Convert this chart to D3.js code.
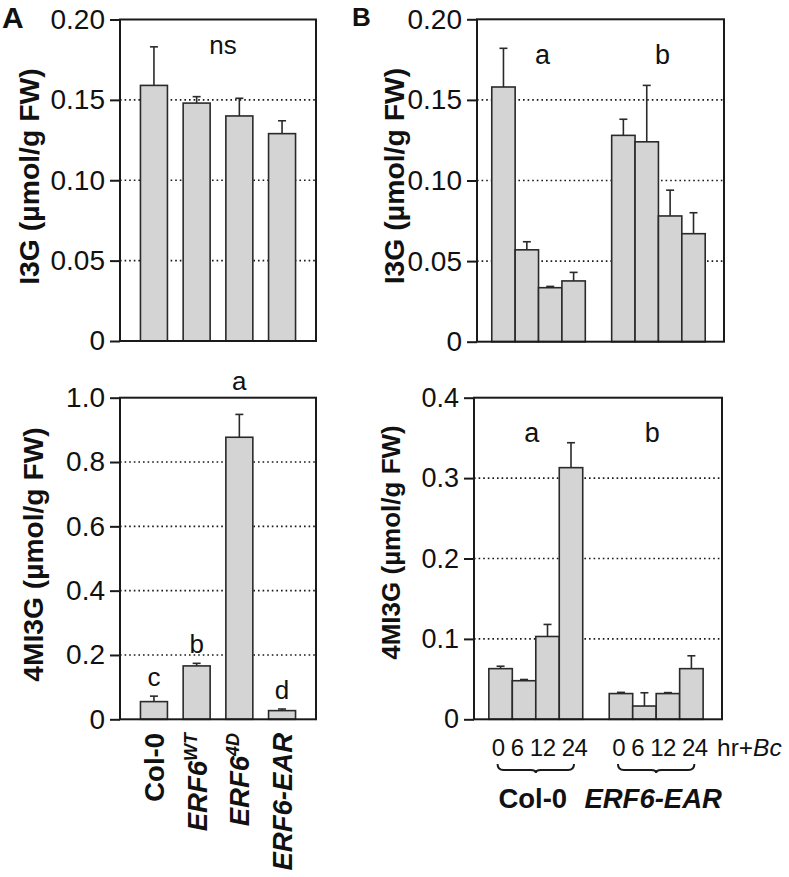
<!DOCTYPE html>
<html><head><meta charset="utf-8">
<script src="https://cdn.jsdelivr.net/npm/d3@7"></script>
<style>
body{margin:0;background:#fff}
svg{display:block}
text{font-family:"Liberation Sans",Arial,Helvetica,sans-serif;fill:#111}
</style>
</head><body>
<svg id="c" width="789" height="877"></svg>
<script>
// ---------------- data ----------------
const aCategories = ["Col-0", "ERF6WT", "ERF64D", "ERF6-EAR"];
const aLabelMain = ["Col-0", "ERF6", "ERF6", "ERF6-EAR"];
const aLabelSup = ["", "WT", "4D", ""];
const aLabelItalic = [false, true, true, true];

const aI3G = [0.159, 0.148, 0.140, 0.129];
const aI3GErr = [0.024, 0.004, 0.011, 0.008];
const aI3GNote = "ns";

const a4MI3G = [0.055, 0.166, 0.877, 0.027];
const a4MI3GErr = [0.017, 0.008, 0.071, 0.005];
const a4MI3GLetters = ["c", "b", "a", "d"];

const bGenotypes = ["Col-0", "ERF6-EAR"];
const bTimes = ["0", "6", "12", "24"];
const bI3GCol = [0.158, 0.057, 0.0335, 0.0377];
const bI3GColErr = [0.024, 0.005, 0.0008, 0.0053];
const bI3GEar = [0.128, 0.124, 0.078, 0.067];
const bI3GEarErr = [0.010, 0.035, 0.016, 0.013];
const bI3GLetters = ["a", "b"];

const b4MI3GCol = [0.063, 0.048, 0.103, 0.313];
const b4MI3GColErr = [0.003, 0.0015, 0.015, 0.031];
const b4MI3GEar = [0.032, 0.0165, 0.032, 0.063];
const b4MI3GEarErr = [0.0015, 0.0165, 0.0012, 0.016];
const b4MI3GLetters = ["a", "b"];

const ticksI3G = [0, 0.05, 0.10, 0.15, 0.20];
const tickLabelsI3G = ["0", "0.05", "0.10", "0.15", "0.20"];
const ticksA4 = [0, 0.2, 0.4, 0.6, 0.8, 1.0];
const tickLabelsA4 = ["0", "0.2", "0.4", "0.6", "0.8", "1.0"];
const ticksB4 = [0, 0.1, 0.2, 0.3, 0.4];
const tickLabelsB4 = ["0", "0.1", "0.2", "0.3", "0.4"];

const yLabelI3G = "I3G (µmol/g FW)";
const yLabel4MI3G = "4MI3G (µmol/g FW)";
const timeUnit = ["hr+", "Bc"];

// ---------------- drawing ----------------
const svg = d3.select("#c");
const BAR_FILL = "#d4d4d4", BAR_STROKE = "#2a2a2a", INK = "#1a1a1a";

function panel(o) {
  const g = svg.append("g");
  const y = d3.scaleLinear().domain([0, o.max]).range([o.y1, o.y0]);
  g.append("g").selectAll("line")
    .data(o.ticks.filter(t => t > 0 && t < o.max))
    .join("line")
    .attr("x1", o.x0).attr("x2", o.x1)
    .attr("y1", d => y(d)).attr("y2", d => y(d))
    .attr("stroke", INK).attr("stroke-width", 1.6)
    .attr("stroke-dasharray", "1.6,3");
  const ax = g.append("g").attr("transform", `translate(${o.x0},0)`)
    .call(d3.axisLeft(y).tickValues(o.ticks)
      .tickFormat((d, i) => o.tickLabels[i]).tickSize(10).tickSizeOuter(0).tickPadding(5));
  ax.select(".domain").remove();
  ax.selectAll(".tick line").attr("stroke", INK).attr("stroke-width", 2);
  ax.selectAll(".tick text").attr("font-size", o.tickSize).attr("fill", INK)
    .style("font-family", '"Liberation Sans",Arial,sans-serif');
  g.append("text")
    .attr("transform", `translate(${o.labelX},${o.labelY}) rotate(-90)`)
    .attr("text-anchor", "middle").attr("font-weight", "bold")
    .attr("font-size", o.labelSize).text(o.label);
  g.frame = () => g.append("rect")
    .attr("x", o.x0).attr("y", o.y0).attr("width", o.x1 - o.x0).attr("height", o.y1 - o.y0)
    .attr("fill", "none").attr("stroke", INK).attr("stroke-width", 2);
  return {g, y};
}

function bars(g, y, items) {
  const gg = g.append("g");
  gg.selectAll("line.err").data(items).join("line").attr("class", "err")
    .attr("x1", d => d.x + d.w / 2).attr("x2", d => d.x + d.w / 2)
    .attr("y1", d => y(d.v)).attr("y2", d => y(d.v + d.e))
    .attr("stroke", BAR_STROKE).attr("stroke-width", 1.6);
  gg.selectAll("line.cap").data(items).join("line").attr("class", "cap")
    .attr("x1", d => d.x + d.w / 2 - 4).attr("x2", d => d.x + d.w / 2 + 4)
    .attr("y1", d => y(d.v + d.e)).attr("y2", d => y(d.v + d.e))
    .attr("stroke", BAR_STROKE).attr("stroke-width", 1.6);
  gg.selectAll("rect").data(items).join("rect")
    .attr("x", d => d.x).attr("width", d => d.w)
    .attr("y", d => y(d.v)).attr("height", d => y(0) - y(d.v))
    .attr("fill", BAR_FILL).attr("stroke", BAR_STROKE).attr("stroke-width", 1.6);
}

// ---- Panel A ----
const xA = d3.scaleBand().domain(aCategories).range([120, 316]).paddingInner(0.368).paddingOuter(0.479);

const pA1 = panel({x0: 120, x1: 316, y0: 19.5, y1: 341, max: 0.2, ticks: ticksI3G, tickLabels: tickLabelsI3G,
  tickSize: 28, label: yLabelI3G, labelX: 38.5, labelY: 176.5, labelSize: 28.4});
bars(pA1.g, pA1.y, aCategories.map((c, i) => ({x: xA(c), w: xA.bandwidth(), v: aI3G[i], e: aI3GErr[i]})));
pA1.g.frame();
pA1.g.append("text").attr("x", (120 + 316) / 2 + 5).attr("y", 54).attr("text-anchor", "middle")
  .attr("font-size", 26).text(aI3GNote);

const A2_TOP = 397.7;
const pA2 = panel({x0: 120, x1: 316, y0: A2_TOP, y1: 719.3, max: 1.0, ticks: ticksA4, tickLabels: tickLabelsA4,
  tickSize: 28, label: yLabel4MI3G, labelX: 43, labelY: 554.5, labelSize: 28.2});
bars(pA2.g, pA2.y, aCategories.map((c, i) => ({x: xA(c), w: xA.bandwidth(), v: a4MI3G[i], e: a4MI3GErr[i]})));
pA2.g.frame();
pA2.g.append("g").selectAll("text").data(aCategories).join("text")
  .attr("x", c => xA(c) + xA.bandwidth() / 2)
  .attr("y", (c, i) => {
    const yy = pA2.y(a4MI3G[i] + a4MI3GErr[i]) - 10;
    return yy < A2_TOP + 20 ? A2_TOP - 8 : yy;
  })
  .attr("text-anchor", "middle").attr("font-size", 26)
  .text((c, i) => a4MI3GLetters[i]);

// rotated category labels
const xl = svg.append("g").selectAll("g").data(aCategories).join("g")
  .attr("transform", c => `translate(${xA(c) + xA.bandwidth() / 2},733) rotate(-90)`);
const xlt = xl.append("text").attr("text-anchor", "end").attr("dy", "0.36em")
  .attr("font-weight", "bold").attr("font-size", 27.5)
  .attr("font-style", (c, i) => aLabelItalic[i] ? "italic" : "normal");
xlt.append("tspan").text((c, i) => aLabelMain[i]);
xlt.filter((c, i) => aLabelSup[i] !== "").append("tspan")
  .attr("font-size", 18).attr("dy", "-0.55em")
  .text(c => aLabelSup[aCategories.indexOf(c)]);

// ---- Panel B ----
function groupScale(r0, r1) {
  return d3.scaleBand().domain(bGenotypes).range([r0, r1]).paddingInner(0.22).paddingOuter(0.14).align(0.44);
}
const xB1 = groupScale(477, 724);
const xB2 = groupScale(474, 722);
const innerB1 = d3.scaleBand().domain(bTimes).range([0, xB1.bandwidth()]).padding(0);
const innerB2 = d3.scaleBand().domain(bTimes).range([0, xB2.bandwidth()]).padding(0);

function bItems(xo, xi, vals, errs) {
  const out = [];
  bGenotypes.forEach((gname, gi) => bTimes.forEach((t, ti) => {
    out.push({x: xo(gname) + xi(t), w: xi.bandwidth(), v: vals[gi][ti], e: errs[gi][ti]});
  }));
  return out;
}

const pB1 = panel({x0: 477, x1: 724, y0: 19.3, y1: 341.7, max: 0.2, ticks: ticksI3G, tickLabels: tickLabelsI3G,
  tickSize: 28, label: yLabelI3G, labelX: 404, labelY: 176, labelSize: 28.4});
bars(pB1.g, pB1.y, bItems(xB1, innerB1, [bI3GCol, bI3GEar], [bI3GColErr, bI3GEarErr]));
pB1.g.frame();
pB1.g.append("g").selectAll("text").data(bGenotypes).join("text")
  .attr("x", gname => xB1(gname) + xB1.bandwidth() / 2 + 4).attr("y", 64)
  .attr("text-anchor", "middle").attr("font-size", 27)
  .text((gname, i) => bI3GLetters[i]);

const pB2 = panel({x0: 474, x1: 722, y0: 397.7, y1: 719.3, max: 0.4, ticks: ticksB4, tickLabels: tickLabelsB4,
  tickSize: 27, label: yLabel4MI3G, labelX: 400, labelY: 542.5, labelSize: 26});
bars(pB2.g, pB2.y, bItems(xB2, innerB2, [b4MI3GCol, b4MI3GEar], [b4MI3GColErr, b4MI3GEarErr]));
pB2.g.frame();
pB2.g.append("g").selectAll("text").data(bGenotypes).join("text")
  .attr("x", gname => xB2(gname) + xB2.bandwidth() / 2 - 4).attr("y", 441.5)
  .attr("text-anchor", "middle").attr("font-size", 27)
  .text((gname, i) => b4MI3GLetters[i]);

// time labels (one typed run per genotype, as in the original)
const tl = svg.append("g");
tl.selectAll("text.times").data(bGenotypes).join("text").attr("class", "times")
  .attr("x", gname => xB2(gname) + 3).attr("y", 756).attr("font-size", 24)
  .attr("textLength", 96).attr("lengthAdjust", "spacing")
  .text(bTimes.join(" "));
const hr = tl.append("text").attr("x", 717).attr("y", 756).attr("font-size", 24.5);
hr.append("tspan").text(timeUnit[0]);
hr.append("tspan").attr("font-style", "italic").text(timeUnit[1]);

// braces + group labels
const br = svg.append("g");
bGenotypes.forEach(gname => {
  const gx = xB2(gname), bw = xB2.bandwidth();
  const xa = gx + bw / 8 - 3, xb = gx + bw * 7 / 8 + 3, xm = (xa + xb) / 2;
  const yb = 770;
  br.append("path")
    .attr("d", `M${xa},${yb - 6} Q${xa},${yb} ${xa + 6},${yb} L${xm - 5},${yb} Q${xm},${yb} ${xm},${yb + 3} Q${xm},${yb} ${xm + 5},${yb} L${xb - 6},${yb} Q${xb},${yb} ${xb},${yb - 6}`)
    .attr("fill", "none").attr("stroke", INK).attr("stroke-width", 2);
  br.append("text").attr("x", gx + bw / 2 - 3).attr("y", 808).attr("text-anchor", "middle")
    .attr("font-weight", "bold").attr("font-size", 27.5)
    .attr("font-style", gname === "Col-0" ? "normal" : "italic").text(gname);
});

// panel letters
svg.append("text").attr("x", 2).attr("y", 28).attr("font-weight", "bold").attr("font-size", 30).text("A");
svg.append("text").attr("x", 352).attr("y", 25.5).attr("font-weight", "bold").attr("font-size", 26).text("B");
</script>
</body></html>
